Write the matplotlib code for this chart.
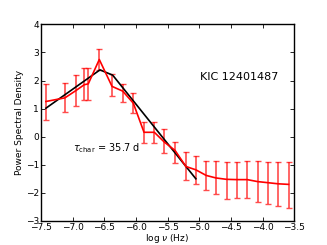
import numpy as np
import matplotlib
matplotlib.use("Agg")
import matplotlib.pyplot as plt

# binned power spectrum (log nu, log PSD) with asymmetric errors
log_nu = [-7.421, -7.121, -6.947, -6.815, -6.752, -6.578, -6.377, -6.208,
          -6.041, -5.872, -5.709, -5.551, -5.381, -5.212, -5.054, -4.891,
          -4.738, -4.570, -4.406, -4.243, -4.080, -3.916, -3.753, -3.590]
log_psd = [1.25, 1.38, 1.64, 1.85, 1.88, 2.75, 1.79, 1.62,
           1.19, 0.15, 0.15, -0.20, -0.50, -1.07, -1.19, -1.39,
           -1.48, -1.53, -1.54, -1.54, -1.61, -1.65, -1.69, -1.71]
err_hi = [1.88, 1.90, 2.21, 2.43, 2.43, 3.11, 2.25, 1.88,
          1.56, 0.51, 0.51, 0.27, -0.20, -0.56, -0.68, -0.86,
          -0.89, -0.92, -0.92, -0.86, -0.89, -0.90, -0.92, -0.92]
err_lo = [0.60, 0.86, 1.08, 1.29, 1.29, 2.38, 1.46, 1.25,
          0.85, -0.24, -0.24, -0.60, -0.95, -1.55, -1.69, -1.90,
          -2.07, -2.23, -2.19, -2.19, -2.33, -2.40, -2.48, -2.56]

# broken power-law fit
fit_x = [-7.421, -6.567, -6.366, -5.054]
fit_y = [1.01, 2.38, 2.19, -1.51]

label = "KIC 12401487"
tau_text = r"$\tau_{\rm char}$ = 35.7 d"

y = np.array(log_psd)
yerr = [y - np.array(err_lo), np.array(err_hi) - y]

fig = plt.figure(figsize=(3.27, 2.45), dpi=100)
ax = fig.add_axes([0.125, 0.1, 0.775, 0.8])

ax.errorbar(log_nu, log_psd, yerr=yerr, color="red", ecolor=(1, 0, 0, 0.7),
            linewidth=1.2, elinewidth=1.2, capsize=2.5, capthick=1.0)
ax.plot(fit_x, fit_y, color="black", linewidth=1.2)

ax.set_xlim(-7.5, -3.5)
ax.set_ylim(-3, 4)
ax.set_xticks(np.arange(-7.5, -3.4, 0.5))
ax.set_yticks(np.arange(-3, 5, 1))
ax.tick_params(direction="in", top=True, right=True, labelsize=6.5,
               length=3, width=0.6, pad=1.5)
for s in ax.spines.values():
    s.set_linewidth(1.0)

ax.set_xlabel(r"log $\nu$ (Hz)", fontsize=6.5, labelpad=0)
ax.set_ylabel("Power Spectral Density", fontsize=6.5, labelpad=1)

ax.text(-4.99, 2.14, label, fontsize=8, va="center")
ax.text(-6.99, -0.43, tau_text, fontsize=7, va="center")

fig.savefig("out.png", dpi=100)
